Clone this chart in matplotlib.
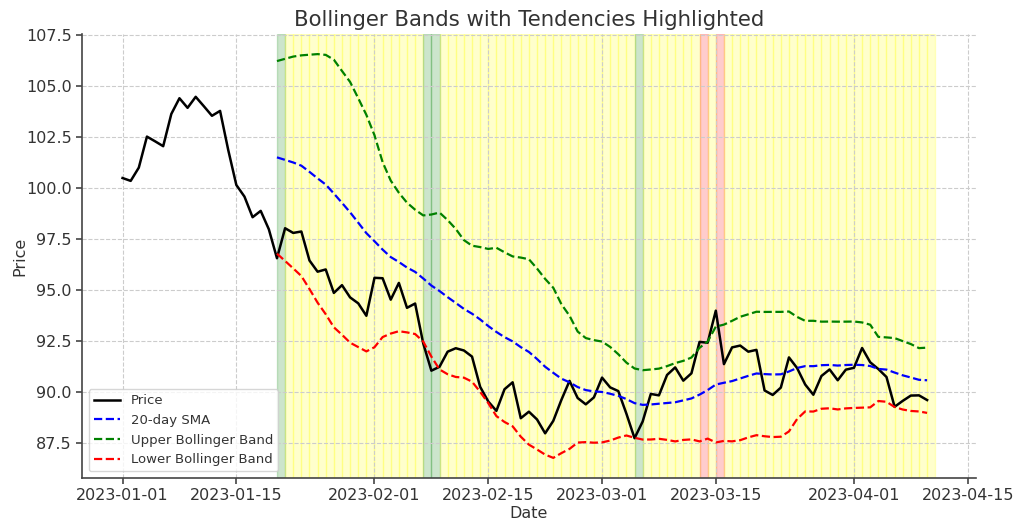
import matplotlib
matplotlib.use("Agg")
import matplotlib.pyplot as plt
import pandas as pd

# daily closing prices, 2023-01-01 .. 2023-04-10
price = [
    100.50, 100.36, 101.01, 102.53, 102.30, 102.06, 103.64, 104.41, 103.94, 104.48,
    104.02, 103.55, 103.79, 101.88, 100.16, 99.59, 98.58, 98.89, 97.99, 96.57,
    98.04, 97.81, 97.88, 96.46, 95.91, 96.02, 94.87, 95.25, 94.65, 94.36,
    93.75, 95.61, 95.59, 94.54, 95.36, 94.14, 94.35, 92.39, 91.06, 91.25,
    91.99, 92.16, 92.05, 91.75, 90.27, 89.55, 89.09, 90.15, 90.49, 88.73,
    89.05, 88.67, 87.99, 88.60, 89.63, 90.56, 89.72, 89.41, 89.75, 90.72,
    90.24, 90.06, 88.95, 87.75, 88.57, 89.92, 89.85, 90.85, 91.22, 90.57,
    90.93, 92.47, 92.43, 94.00, 91.38, 92.20, 92.29, 91.99, 92.08, 90.09,
    89.87, 90.23, 91.71, 91.19, 90.38, 89.88, 90.80, 91.12, 90.59, 91.11,
    91.20, 92.17, 91.47, 91.14, 90.75, 89.29, 89.58, 89.84, 89.85, 89.62,
]
start_date = "2023-01-01"
window = 20

# highlighted tendencies
below_band_days = ["2023-01-20", "2023-02-07", "2023-02-08", "2023-03-05"]
above_band_days = ["2023-03-13", "2023-03-15"]

dates = pd.date_range(start_date, periods=len(price), freq="D")
s = pd.Series(price, index=dates)
sma = s.rolling(window).mean()
std = s.rolling(window).std()
upper = sma + 2 * std
lower = sma - 2 * std

txt = "#333333"
plt.rcParams.update({
    "font.family": "DejaVu Sans",
    "text.color": txt,
    "axes.labelcolor": txt,
    "xtick.color": "#444444",
    "ytick.color": "#444444",
    "xtick.labelcolor": txt,
    "ytick.labelcolor": txt,
})

fig = plt.figure(figsize=(10.24, 5.3), dpi=100)
ax = fig.add_axes([0.080, 0.098, 0.873, 0.838])

one_day = pd.Timedelta(days=1)
green = set(pd.to_datetime(below_band_days))
red = set(pd.to_datetime(above_band_days))
for d in dates[window - 1:]:
    if d in green:
        c = "green"
    elif d in red:
        c = "red"
    else:
        c = "yellow"
    ax.axvspan(d, d + one_day, color=c, alpha=0.2)

ax.plot(dates, price, color="black", lw=1.8, label="Price")
ax.plot(dates, sma, color="blue", lw=1.6, ls="--", label="20-day SMA")
ax.plot(dates, upper, color="green", lw=1.6, ls="--", label="Upper Bollinger Band")
ax.plot(dates, lower, color="red", lw=1.6, ls="--", label="Lower Bollinger Band")

ax.set_title("Bollinger Bands with Tendencies Highlighted", fontsize=15.3, color=txt)
ax.set_xlabel("Date", fontsize=11.5, labelpad=2)
ax.set_ylabel("Price", fontsize=11.5, labelpad=-1)
ax.tick_params(labelsize=11.5, width=1.2, length=4)
ax.grid(True, ls="--", color="#cccccc", lw=0.8)
for side in ("top", "right"):
    ax.spines[side].set_visible(False)
for side in ("left", "bottom"):
    ax.spines[side].set_color("#444444")
    ax.spines[side].set_linewidth(1.2)

ax.legend(loc="lower left", fontsize=9.5, framealpha=0.8, edgecolor="#cccccc")

fig.savefig("out.png", dpi=100)
